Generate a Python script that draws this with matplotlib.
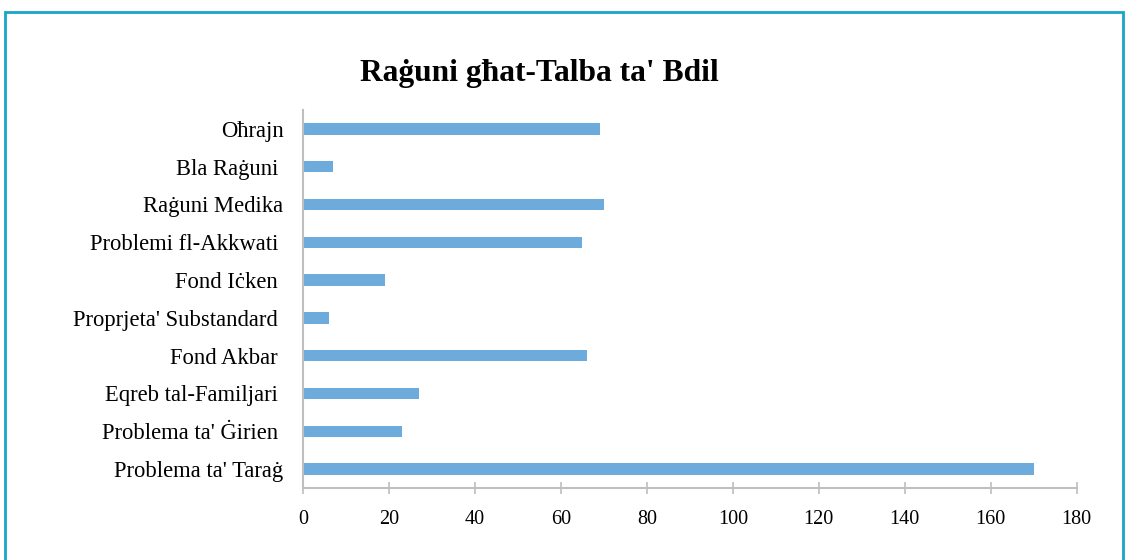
import matplotlib.pyplot as plt
from matplotlib.patches import Rectangle

# data, bottom to top as drawn
categories = ["Problema ta' Taraġ", "Problema ta' Ġirien ", "Eqreb tal-Familjari ",
              "Fond Akbar ", "Proprjeta' Substandard ", "Fond Iċken ",
              "Problemi fl-Akkwati ", "Raġuni Medika", "Bla Raġuni ", "Oħrajn"]
values = [170, 23, 27, 66, 6, 19, 65, 70, 7, 69]
x_ticks = [0, 20, 40, 60, 80, 100, 120, 140, 160, 180]

plt.rcParams['font.family'] = ['Liberation Serif', 'DejaVu Serif']

fig = plt.figure(figsize=(11.27, 5.6), dpi=100)
ax = fig.add_axes([0.2689, 0.1286, 0.6865, 0.675])

ax.barh(range(len(categories)), values, height=0.3, color='#6DABDD')

ax.set_xlim(0, 180)
ax.set_ylim(-0.5, len(categories) - 0.5)
ax.set_xticks(x_ticks)
ax.set_yticks(range(len(categories)))
ax.set_yticklabels(categories)

grey = '#BFBFBF'
for side in ['top', 'right']:
    ax.spines[side].set_visible(False)
for side in ['left', 'bottom']:
    ax.spines[side].set_color(grey)
    ax.spines[side].set_linewidth(1.5)

ax.tick_params(axis='x', direction='inout', length=9, width=1.2, color=grey,
               labelsize=14.5, pad=11)
ax.tick_params(axis='y', length=0, labelsize=16.3, pad=14)

fig.text(0.479, 0.868, "Raġuni għat-Talba ta' Bdil", ha='center', va='center',
         fontsize=22.7, fontweight='bold')

# teal frame round the chart
fig.patches.append(Rectangle((5 / 1127, -0.05), 1118 / 1127, 1 - 11.5 / 560 + 0.05,
                             transform=fig.transFigure, fill=False,
                             edgecolor='#17A5C9', linewidth=2))

fig.savefig('out.png', dpi=100)
